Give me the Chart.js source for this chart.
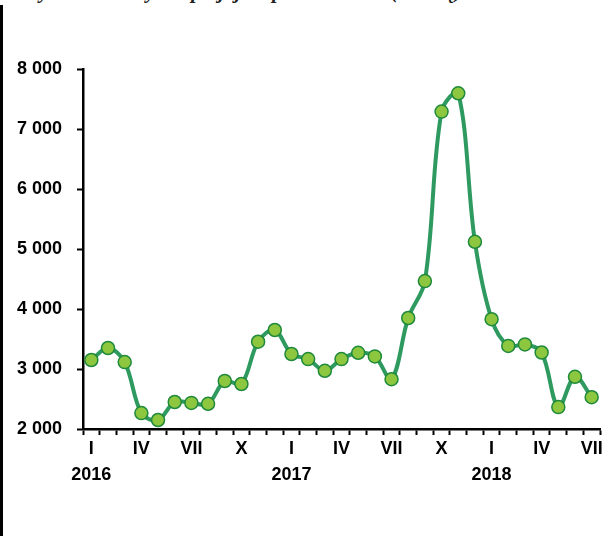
<!DOCTYPE html>
<html>
<head>
<meta charset="utf-8">
<script src="https://cdn.jsdelivr.net/npm/chart.js@4"></script>
<style>
  html, body { margin:0; padding:0; background:#fff; overflow:hidden; width:603px; height:536px; }
  .wrap { position:relative; width:603px; height:536px; overflow:hidden; }
  .title { position:absolute; left:22px; top:-21px; white-space:nowrap;
           font:bold italic 21px "Liberation Serif", "DejaVu Serif", serif; color:#222; }
  .frame { position:absolute; left:0; top:5px; width:3px; bottom:0; background:#000; }
  canvas { position:absolute; left:0; top:0; }
</style>
</head>
<body>
<div class="wrap">
  <div class="title">Wykres 2. Ceny skupu jaj do przetwórstwa (zł/tonę)</div>
  <div class="frame"></div>
  <canvas id="chart" width="640" height="536"></canvas>
</div>
<script>
// ===== Data =====
const MONTH_TICKS = [
  'I','','','IV','','','VII','','','X','','',
  'I','','','IV','','','VII','','','X','','',
  'I','','','IV','','','VII'
];
const YEAR_TICKS = [
  '2016','','','','','','','','','','','',
  '2017','','','','','','','','','','','',
  '2018','','','','','',''
];
const PRICES = [
  3150, 3350, 3115, 2265, 2150, 2450, 2435, 2420, 2800, 2750, 3455, 3650,
  3250, 3165, 2970, 3165, 3270, 3210, 2830, 3850, 4465, 7290, 7595, 5120,
  3830, 3385, 3410, 3275, 2365, 2870, 2530
];
const Y_MIN = 2000, Y_MAX = 8000, Y_STEP = 1000;

const fmt = v => String(v).replace(/\B(?=(\d{3})+(?!\d))/g, ' ');
const tickFont = { family:'"Liberation Sans", Arial, sans-serif', size:18, weight:'bold' };

new Chart(document.getElementById('chart'), {
  type:'line',
  data:{
    labels:MONTH_TICKS,
    datasets:[{
      data:PRICES,
      borderColor:'#2e9a60',
      borderWidth:4,
      tension:0.35,
      pointRadius:6.5,
      pointBorderWidth:1.5,
      pointBackgroundColor:'#8dc63f',
      pointBorderColor:'#1f8a3b',
      clip:false
    }]
  },
  options:{
    responsive:false,
    animation:false,
    layout:{ padding:{ top:69, right:40, left:0, bottom:0 } },
    plugins:{ legend:{display:false}, tooltip:{enabled:false} },
    scales:{
      x:{
        type:'category',
        offset:true,
        grid:{ display:true, drawOnChartArea:false, offset:true, tickLength:6, tickWidth:2, tickColor:'#000' },
        border:{ display:true, color:'#000', width:2.5 },
        ticks:{ autoSkip:false, maxRotation:0, minRotation:0, padding:3, color:'#000', font:tickFont },
        afterFit:(s) => { s.height = 27; }
      },
      x2:{
        type:'category',
        position:'bottom',
        labels:YEAR_TICKS,
        offset:true,
        grid:{ display:false },
        border:{ display:false },
        ticks:{ autoSkip:false, maxRotation:0, minRotation:0, padding:0, color:'#000', font:tickFont },
        afterFit:(s) => { s.height = 80; }
      },
      y:{
        min:Y_MIN, max:Y_MAX,
        grid:{ display:true, drawOnChartArea:false, tickLength:6, tickWidth:2, tickColor:'#000' },
        border:{ display:true, color:'#000', width:2.5 },
        ticks:{ stepSize:Y_STEP, padding:15, color:'#000', font:tickFont, callback:(v) => fmt(v) },
        afterFit:(s) => { s.width = 83; }
      }
    }
  }
});
</script>
</body>
</html>
